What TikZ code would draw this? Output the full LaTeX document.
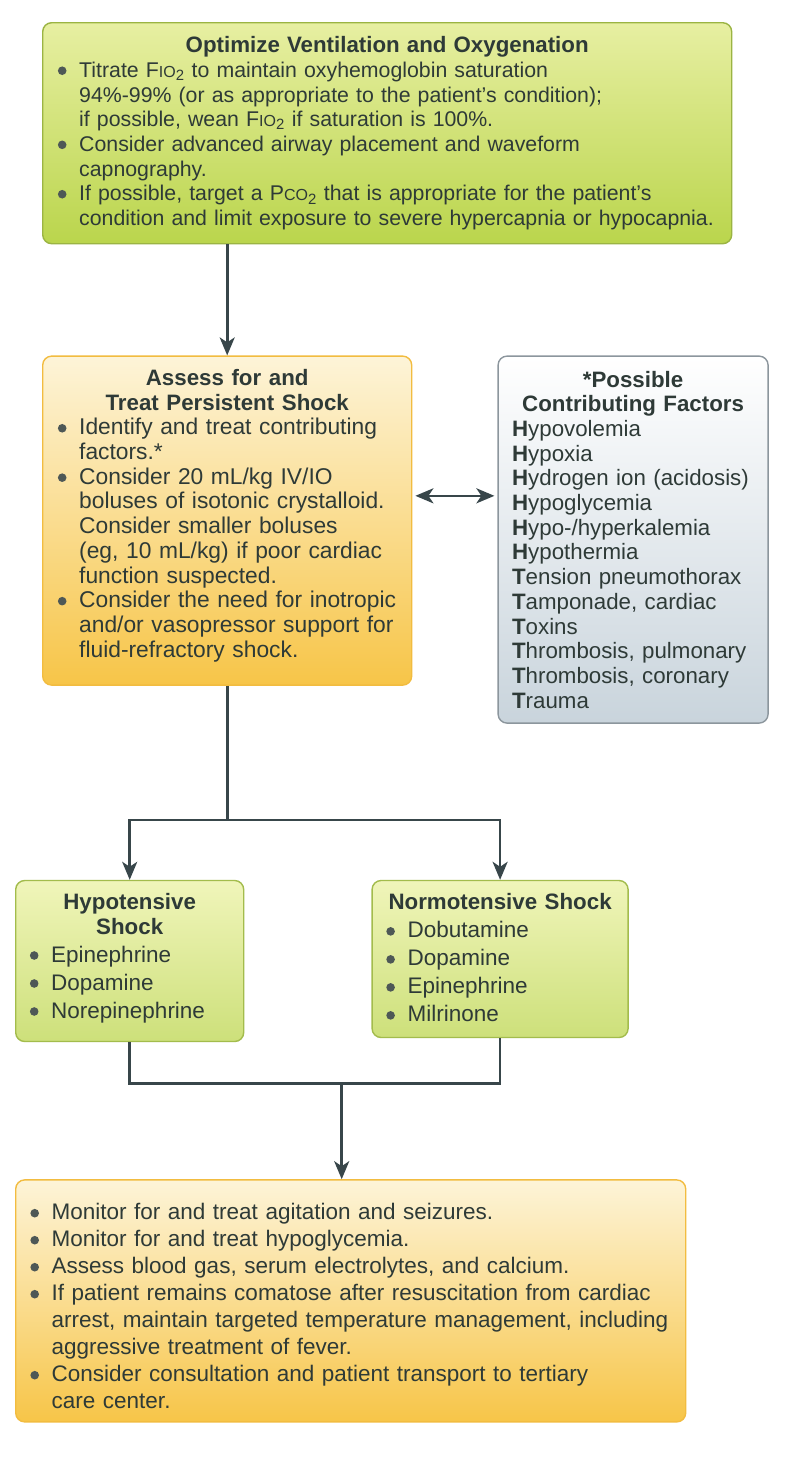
\documentclass[tikz,border=0pt]{standalone}
\usepackage{fontspec}
\setmainfont{Liberation Sans}
\usepackage{tikz}
\usetikzlibrary{arrows.meta, positioning, calc}
\tikzset{every node/.append style={inner sep=0pt}}
\hyphenpenalty=10000
\exhyphenpenalty=10000
\hfuzz=30pt

\definecolor{ink}{HTML}{2E3A37}
\definecolor{wire}{HTML}{38464A}
\definecolor{dotc}{HTML}{4E5856}
\definecolor{lime1}{HTML}{E7EFA2}
\definecolor{lime2}{HTML}{BAD54C}
\definecolor{limeedge}{HTML}{9BB443}
\definecolor{gold1}{HTML}{FDF4D8}
\definecolor{gold2}{HTML}{F7C548}
\definecolor{goldedge}{HTML}{F2BC40}
\definecolor{slate1}{HTML}{FFFFFF}
\definecolor{slate2}{HTML}{C9D4DC}
\definecolor{slateedge}{HTML}{8C969D}
\definecolor{pea1}{HTML}{F0F5BA}
\definecolor{pea2}{HTML}{CDE07A}
\definecolor{peaedge}{HTML}{A3BC4C}

\newcommand{\dotmark}{\tikz[baseline=0pt]{\useasboundingbox (0pt,0pt) rectangle (9pt,1pt);
  \fill[dotc] (4.5pt,6.6pt) circle[radius=4.3pt];}}
\newcommand{\bul}[2][21.5pt]{\par\hangindent=#1\relax\hangafter=1\noindent
  \rightskip=-20pt plus 1fil\relax
  \makebox[#1][l]{\dotmark}#2\par}
\newcommand{\hd}[1]{{\centering\fontsize{22.3}{24.7}\selectfont\bfseries #1\par}}
\newcommand{\fac}[2]{\par\noindent\textbf{#1}#2\par}
\newcommand{\sm}[1]{{\fontsize{16}{16}\selectfont #1}}

\begin{document}
\begin{tikzpicture}[x=1pt, y=1pt,
    limebox/.style={rectangle, rounded corners=9pt, draw=limeedge, line width=1.4pt, top color=lime1, bottom color=lime2, text=ink, align=left},
    goldbox/.style={rectangle, rounded corners=9pt, draw=goldedge, line width=1.4pt, top color=gold1, bottom color=gold2, text=ink, align=left},
    slatebox/.style={rectangle, rounded corners=9pt, draw=slateedge, line width=1.4pt, top color=slate1, bottom color=slate2, text=ink, align=left},
    peabox/.style={rectangle, rounded corners=9pt, draw=peaedge, line width=1.4pt, top color=pea1, bottom color=pea2, text=ink, align=left},
    wireline/.style={draw=wire, line width=2.6pt},
    conn/.style={wireline, -{Stealth[length=18pt, width=15pt, inset=5pt]}},
    dconn/.style={wireline, {Stealth[length=18pt, width=15pt, inset=5pt]}-{Stealth[length=18pt, width=15pt, inset=5pt]}}]
\useasboundingbox[fill=white] (0,0) rectangle (797,-1465);

\node[limebox, minimum width=689pt, minimum height=221pt, text width=659pt,
    font=\fontsize{21.3}{24.7}\selectfont, anchor=north west] (vent) at (42,-22) {%
  \hd{Optimize Ventilation and Oxygenation}
  \bul{Titrate F\sm{IO}\textsubscript{2} to maintain oxyhemoglobin saturation\newline
    94\%-99\% (or as appropriate to the patient’s condition);\newline
    if possible, wean F\sm{IO}\textsubscript{2} if saturation is 100\%.}
  \bul{Consider advanced airway placement and waveform\newline capnography.}
  \bul{If possible, target a P\sm{CO}\textsubscript{2} that is appropriate for the patient’s\newline
    condition and limit exposure to severe hypercapnia or hypocapnia.}};

\node[goldbox, minimum width=369pt, minimum height=329pt, text width=339pt,
    font=\fontsize{22.8}{24.7}\selectfont, below=111pt of vent.south west, anchor=north west] (shock) {%
  \hd{Assess for and}
  \hd{Treat Persistent Shock}
  \bul{Identify and treat contributing\newline factors.*}
  \bul{Consider 20 mL/kg IV/IO\newline boluses of isotonic crystalloid.\newline
    Consider smaller boluses\newline (eg, 10 mL/kg) if poor cardiac\newline function suspected.}
  \bul{Consider the need for inotropic\newline and/or vasopressor support for\newline fluid-refractory shock.}
  \vspace{10pt}};

\node[slatebox, minimum width=270pt, minimum height=367pt, text width=242pt,
    font=\fontsize{22.3}{24.7}\selectfont, right=85pt of shock.north east, anchor=north west] (factors) {%
  \hd{*Possible}
  \hd{Contributing Factors}
  \fac{H}{ypovolemia}
  \fac{H}{ypoxia}
  \fac{H}{ydrogen ion (acidosis)}
  \fac{H}{ypoglycemia}
  \fac{H}{ypo-/hyperkalemia}
  \fac{H}{ypothermia}
  \fac{T}{ension pneumothorax}
  \fac{T}{amponade, cardiac}
  \fac{T}{oxins}
  \fac{T}{hrombosis, pulmonary}
  \fac{T}{hrombosis, coronary}
  \fac{T}{rauma}};

\node[peabox, minimum width=228pt, minimum height=161pt, text width=200pt,
    font=\fontsize{22.5}{28}\selectfont, below=194pt of shock.south west, xshift=-27pt, anchor=north west] (hypo) {%
  \hd{Hypotensive}
  \hd{Shock}
  \bul{Epinephrine}
  \bul{Dopamine}
  \bul{Norepinephrine}
  \vspace{6pt}};

\node[peabox, minimum width=256pt, minimum height=157pt, text width=228pt,
    font=\fontsize{22.5}{28}\selectfont, right=127pt of hypo.north east, anchor=north west] (normo) {%
  \hd{Normotensive Shock}
  \bul{Dobutamine}
  \bul{Dopamine}
  \bul{Epinephrine}
  \bul{Milrinone}
  \vspace{2pt}};

\node[goldbox, minimum width=670pt, minimum height=242pt, text width=641pt,
    font=\fontsize{22.5}{27}\selectfont, below=137pt of hypo.south west, anchor=north west] (post) {%
  \bul{Monitor for and treat agitation and seizures.}
  \bul{Monitor for and treat hypoglycemia.}
  \bul{Assess blood gas, serum electrolytes, and calcium.}
  \bul{If patient remains comatose after resuscitation from cardiac\newline
    arrest, maintain targeted temperature management, including\newline
    aggressive treatment of fever.}
  \bul{Consider consultation and patient transport to tertiary\newline care center.}};

% connectors
\coordinate (link) at ($(shock.north east)!0.425!(shock.south east)$);
\coordinate[below=134pt of shock.south] (fork);
\coordinate[above=96pt of post.north, xshift=-9pt] (join);

\draw[conn] (vent.south -| shock.north) -- (shock.north);
\draw[dconn] ([xshift=3pt]link) -- ([xshift=-3pt]link -| factors.west);
\draw[wireline] (shock.south) -- (fork);
\draw[conn] (fork) -| (hypo.north);
\draw[conn] (fork) -| (normo.north);
\draw[wireline] (hypo.south) |- (join) -| (normo.south);
\draw[conn] (join) -- (join |- post.north);
\end{tikzpicture}
\end{document}
